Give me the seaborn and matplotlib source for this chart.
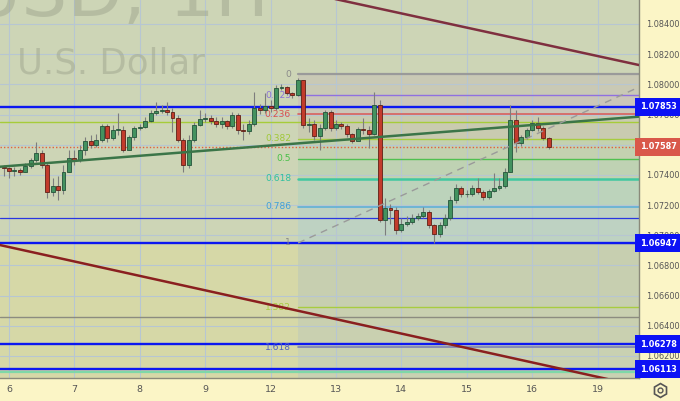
import numpy as np
import pandas as pd
import matplotlib
matplotlib.use("Agg")
import matplotlib.pyplot as plt
import seaborn as sns
from matplotlib.lines import Line2D

# ---------------- data ----------------
day_labels = ['6', '7', '8', '9', '12', '13', '14', '15', '16', '19']
day_ticks = [0, 24, 48, 72, 96, 120, 144, 168, 192, 216]          # hours
y_ticks = [1.062, 1.064, 1.066, 1.068, 1.070, 1.072, 1.074, 1.076, 1.078,
           1.080, 1.082, 1.084]

bar_hours = list(range(-2, 200, 2))   # 2-hour candles
first_open = 1.07452
closes = [1.07446, 1.07426, 1.07432, 1.07419, 1.07459, 1.07499, 1.07545, 1.07466, 1.07287, 1.07326,
          1.07300, 1.07419, 1.07512, 1.07499, 1.07565, 1.07625, 1.07598, 1.07631, 1.07724, 1.07645,
          1.07698, 1.07698, 1.07565, 1.07651, 1.07711, 1.07717, 1.07757, 1.07810, 1.07823, 1.07830,
          1.07817, 1.07777, 1.07631, 1.07466, 1.07631, 1.07731, 1.07770, 1.07777, 1.07757, 1.07737,
          1.07757, 1.07724, 1.07797, 1.07698, 1.07691, 1.07737, 1.07843, 1.07830, 1.07857, 1.07843,
          1.07976, 1.07982, 1.07943, 1.07929, 1.08029, 1.07731, 1.07737, 1.07658, 1.07711, 1.07817,
          1.07711, 1.07737, 1.07724, 1.07671, 1.07625, 1.07704, 1.07698, 1.07671, 1.07863, 1.07101,
          1.07181, 1.07167, 1.07035, 1.07075, 1.07088, 1.07114, 1.07128, 1.07154, 1.07068, 1.07008,
          1.07068, 1.07114, 1.07234, 1.07313, 1.07273, 1.07273, 1.07313, 1.07287, 1.07254, 1.07293,
          1.07313, 1.07326, 1.07419, 1.07764, 1.07611, 1.07651, 1.07698, 1.07744, 1.07711, 1.07645,
          1.07585]
highs = [1.07466, 1.07452, 1.07452, 1.07446, 1.07479, 1.07512, 1.07618, 1.07565, 1.07479, 1.07379,
         1.07393, 1.07466, 1.07565, 1.07565, 1.07598, 1.07651, 1.07664, 1.07671, 1.07737, 1.07737,
         1.07731, 1.07810, 1.07724, 1.07664, 1.07724, 1.07737, 1.07784, 1.07830, 1.07883, 1.07863,
         1.07883, 1.07843, 1.07797, 1.07645, 1.07664, 1.07751, 1.07830, 1.07810, 1.07797, 1.07784,
         1.07784, 1.07764, 1.07817, 1.07810, 1.07737, 1.07764, 1.07949, 1.07870, 1.07943, 1.07896,
         1.07996, 1.08002, 1.07989, 1.07949, 1.08042, 1.08029, 1.07777, 1.07764, 1.07737, 1.07830,
         1.07830, 1.07764, 1.07751, 1.07737, 1.07678, 1.07717, 1.07777, 1.07724, 1.07949, 1.07896,
         1.07247, 1.07207, 1.07187, 1.07114, 1.07128, 1.07141, 1.07147, 1.07187, 1.07167, 1.07075,
         1.07088, 1.07141, 1.07260, 1.07340, 1.07326, 1.07300, 1.07333, 1.07379, 1.07300, 1.07307,
         1.07413, 1.07379, 1.07446, 1.07863, 1.07830, 1.07664, 1.07711, 1.07764, 1.07784, 1.07724,
         1.07651]
lows = [1.07393, 1.07379, 1.07393, 1.07399, 1.07419, 1.07446, 1.07485, 1.07446, 1.07247, 1.07260,
        1.07234, 1.07273, 1.07419, 1.07466, 1.07485, 1.07532, 1.07578, 1.07585, 1.07618, 1.07618,
        1.07631, 1.07664, 1.07552, 1.07565, 1.07631, 1.07698, 1.07711, 1.07751, 1.07797, 1.07810,
        1.07797, 1.07684, 1.07618, 1.07419, 1.07446, 1.07618, 1.07724, 1.07751, 1.07737, 1.07717,
        1.07711, 1.07704, 1.07711, 1.07671, 1.07631, 1.07671, 1.07724, 1.07804, 1.07810, 1.07817,
        1.07830, 1.07963, 1.07929, 1.07910, 1.07923, 1.07711, 1.07684, 1.07631, 1.07565, 1.07698,
        1.07691, 1.07698, 1.07704, 1.07651, 1.07611, 1.07631, 1.07671, 1.07578, 1.07664, 1.07088,
        1.07002, 1.07075, 1.07008, 1.07022, 1.07061, 1.07075, 1.07101, 1.07114, 1.07048, 1.06949,
        1.06988, 1.07048, 1.07101, 1.07214, 1.07254, 1.07254, 1.07260, 1.07273, 1.07234, 1.07240,
        1.07287, 1.07300, 1.07313, 1.07419, 1.07552, 1.07592, 1.07638, 1.07691, 1.07691, 1.07631,
        1.07572]

# horizontal levels
key_levels = [1.07853, 1.06947, 1.06278, 1.06113]
key_labels = ['1.07853', '1.06947', '1.06278', '1.06113']
current_price = 1.07587
thin_blue_level = 1.07114
yellow_level = 1.07751
gray_level = 1.06458
green_level = 1.06094

# fibonacci retracement
fib_start_hour = 106.1
fib_zero = 1.080667
fib_one = 1.069487
fib_levels = [0, 0.125, 0.236, 0.382, 0.5, 0.618, 0.786, 1, 1.382, 1.618]
fib_names = ['0', '0.125', '0.236', '0.382', '0.5', '0.618', '0.786', '1', '1.382', '1.618']

# trend lines (hour, price)
green_trend = [(-3.3, 1.07454), (231.2, 1.07786)]
channel_upper = [(-3.3, 1.09048), (231.2, 1.08128)]
channel_lower = [(-3.3, 1.06935), (231.2, 1.06001)]
fib_diagonal = [(106.1, 1.06949), (231.2, 1.07982)]

# ---------------- style ----------------
sns.set_theme(style="white")
plt.rcParams['font.family'] = ['DejaVu Sans']

W, H = 680, 401
fig = plt.figure(figsize=(W / 100, H / 100), dpi=100)
fig.patch.set_facecolor('#fbf5c6')
ax = fig.add_axes([0, 23 / H, 639 / W, 378 / H])
ax.set_facecolor('#cdd5b6')

XMIN, XMAX = -3.3, 231.2
YMIN, YMAX = 1.06054, 1.08559
ax.set_xlim(XMIN, XMAX)
ax.set_ylim(YMIN, YMAX)

# background regions
ax.fill_between([XMIN, fib_start_hour], YMIN, fib_one, color='#d6d8a7', zorder=0.2, lw=0)
fib_prices = [fib_zero - l * (fib_zero - fib_one) for l in fib_levels]
zone_colors = ['#c9c9b5', '#cbc6b9', '#c9cbb0', '#c3d1b0', '#bfd2b3', '#bcd3bb',
               '#bed2c2', '#c7cfb0', '#c9d0b0']
for i in range(len(fib_prices) - 1):
    ax.fill_between([fib_start_hour, XMAX], fib_prices[i + 1], fib_prices[i],
                    color=zone_colors[i], zorder=0.3, lw=0)
ax.fill_between([fib_start_hour, XMAX], YMIN, fib_prices[-1], color='#c9d1b2', zorder=0.3, lw=0)

# grid
for t in day_ticks:
    ax.axvline(t, color='#b7c6d2', lw=0.8, zorder=0.5)
for yv in y_ticks:
    ax.axhline(yv, color='#b7c6d2', lw=0.8, zorder=0.5)

# watermark (chart is a crop: left part of the first line lies outside)
ax.text(269 / 639, 1 - 16 / 378, 'EURUSD, 1H', transform=ax.transAxes, ha='right',
        va='baseline', fontsize=52, color='#9ea58e', alpha=0.5, zorder=0.6, clip_on=True)
ax.text(17 / 639, 1 - 73 / 378, 'U.S. Dollar', transform=ax.transAxes, ha='left',
        va='baseline', fontsize=25.6, color='#9ea58e', alpha=0.5, zorder=0.6, clip_on=True)

# fib lines and labels
fib_line_colors = ['#9a9a9a', '#9070e0', '#d86060', '#a8cc40', '#50c050', '#40c8a0',
                   '#60b0d8', '#9a9a9a', '#a8cc40', '#7a80b8']
fib_text_colors = ['#8a8a8a', '#8a70d8', '#d85050', '#a0c838', '#48c048', '#30c0a0',
                   '#40a0d8', '#8a8a8a', '#a8cc40', '#5060c0']
fib_lw = [1.6, 1.0, 1.2, 1.0, 1.0, 1.8, 1.2, 1.0, 1.0, 1.2]
for p, c, tc, lw, name in zip(fib_prices, fib_line_colors, fib_text_colors, fib_lw, fib_names):
    ax.plot([fib_start_hour, XMAX], [p, p], color=c, lw=lw, zorder=2)
    ax.text(fib_start_hour - 2.6, p, name, color=tc, fontsize=6.6, ha='right', va='center',
            zorder=2.6)

# horizontal levels across the whole chart
for lv in key_levels:
    ax.axhline(lv, color='#0c18f0', lw=1.7, zorder=2.2)
ax.axhline(thin_blue_level, color='#2a36e0', lw=0.9, zorder=2.1)
ax.axhline(yellow_level, color='#a6cc3a', lw=1.0, zorder=2.1)
ax.axhline(gray_level, color='#8c8c80', lw=1.0, zorder=2.1)
ax.axhline(green_level, color='#7fd8a8', lw=1.6, zorder=2.0)
ax.axhline(current_price, color='#e0603f', lw=1.0, ls=(0, (1, 1.5)), zorder=2.3)

# candles
df = pd.DataFrame({'t': bar_hours, 'close': closes, 'high': highs, 'low': lows})
df['open'] = [first_open] + closes[:-1]
up = df['close'] >= df['open']
ax.vlines(df['t'], df['low'], df['high'], color='#7d7d7d', lw=0.8, zorder=3)
body_lo = df[['open', 'close']].min(axis=1)
body_h = (df['close'] - df['open']).abs().clip(lower=0.00003)
ax.bar(df['t'][up], body_h[up], bottom=body_lo[up], width=1.45, color='#43925f',
       edgecolor='#24533a', linewidth=0.6, zorder=3.2)
ax.bar(df['t'][~up], body_h[~up], bottom=body_lo[~up], width=1.45, color='#c23b2c',
       edgecolor='#5e2016', linewidth=0.6, zorder=3.2)

# trend lines
def seg(points, **kw):
    d = pd.DataFrame(points, columns=['t', 'p'])
    sns.lineplot(data=d, x='t', y='p', ax=ax, **kw)

seg(green_trend, color='#3b7548', lw=1.8, zorder=4)
seg(channel_upper, color='#7f2f3f', lw=1.8, zorder=4)
seg(channel_lower, color='#8a1f1f', lw=1.8, zorder=4)
seg(fib_diagonal, color='#9a9a9a', lw=1.0, ls=(0, (5, 4)), zorder=4)
ax.set_xlim(XMIN, XMAX)
ax.set_ylim(YMIN, YMAX)

# axes
ax.set_xlabel('')
ax.set_ylabel('')
ax.yaxis.tick_right()
ax.set_yticks(y_ticks)
ax.set_yticklabels([f'{v:.5f}' for v in y_ticks])
ax.set_xticks(day_ticks)
ax.set_xticklabels(day_labels)
ax.tick_params(axis='both', length=0, labelcolor='#555555')
ax.tick_params(axis='y', pad=5, labelsize=5.9)
ax.tick_params(axis='x', pad=5, labelsize=6.8)
for s in ['top', 'left']:
    ax.spines[s].set_visible(False)
for s in ['right', 'bottom']:
    ax.spines[s].set_visible(True)
    ax.spines[s].set_color('#8a8a7a')
    ax.spines[s].set_linewidth(1.0)

# price boxes on the axis
box_kw = dict(xycoords=('axes fraction', 'data'), xytext=(0.6, 0), textcoords='offset points',
              ha='left', va='center', fontsize=5.9, fontweight='bold', color='white',
              zorder=10, annotation_clip=False)
for lv, lab in zip(key_levels, key_labels):
    ax.annotate(lab, xy=(1.0, lv), **box_kw,
                bbox=dict(boxstyle='square,pad=0.55', fc='#0c12f5', ec='none'))
ax.annotate(f'{current_price:.5f}', xy=(1.0, current_price), **box_kw,
            bbox=dict(boxstyle='square,pad=0.55', fc='#d9584a', ec='none'))

# settings icon
fig.add_artist(Line2D([660 / W], [1 - 390 / H], marker='h', ms=10, mfc='none',
                      mec='#555555', mew=1.2, transform=fig.transFigure))
fig.add_artist(Line2D([660 / W], [1 - 390 / H], marker='o', ms=3.5, mfc='none',
                      mec='#555555', mew=1.0, transform=fig.transFigure))

fig.savefig('out.png', dpi=100, facecolor=fig.get_facecolor())
